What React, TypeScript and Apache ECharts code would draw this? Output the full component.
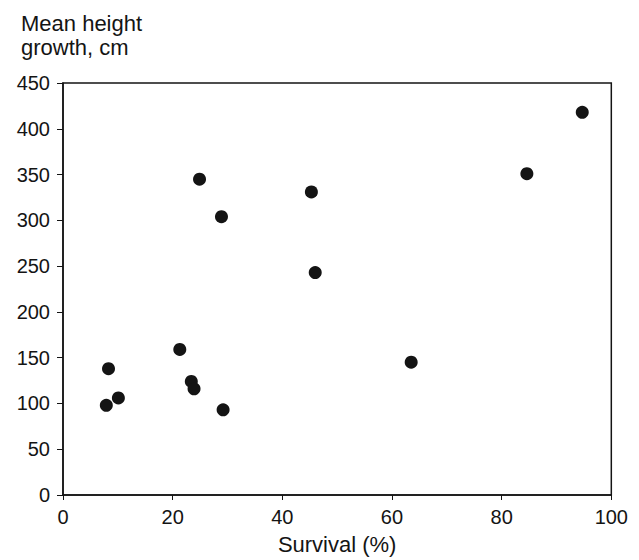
import React, { useEffect, useRef } from "react";
import * as echarts from "echarts";

const survival = [24.9, 28.9, 45.3, 94.7, 84.6, 46.0, 8.3, 7.9, 10.1, 21.3, 23.4, 23.9, 29.2, 63.5];
const heightGrowth = [345, 304, 331, 418, 351, 243, 138, 98, 106, 159, 124, 116, 93, 145];
const xTicks = [0, 20, 40, 60, 80, 100];
const yTicks = [0, 50, 100, 150, 200, 250, 300, 350, 400, 450];

const FONT = "'Liberation Sans', Arial, Helvetica, sans-serif";
const INK = "#141414";

export default function App() {
  const ref = useRef<HTMLDivElement>(null);
  useEffect(() => {
    if (!ref.current) return;
    const chart = echarts.init(ref.current, null, { renderer: "svg" });
    const pts = survival.map((x, i) => [x, heightGrowth[i]]);
    chart.setOption({
      animation: false,
      backgroundColor: "#ffffff",
      title: {
        text: "Mean height\ngrowth, cm",
        left: 8,
        top: -2,
        textStyle: {
          fontFamily: FONT,
          fontWeight: "normal",
          fontSize: 22,
          lineHeight: 24,
          color: INK,
        },
      },
      grid: {
        left: 55,
        right: 14,
        top: 75,
        bottom: 53.5,
        show: true,
        borderColor: INK,
        borderWidth: 1.5,
        backgroundColor: "transparent",
        containLabel: false,
      },
      xAxis: {
        type: "value",
        min: xTicks[0],
        max: xTicks[xTicks.length - 1],
        interval: 20,
        name: "Survival (%)",
        nameLocation: "middle",
        nameGap: 38,
        nameTextStyle: { fontFamily: FONT, fontSize: 22, color: INK },
        axisLine: { show: true, lineStyle: { color: INK, width: 1.5 } },
        axisTick: { show: true, length: 5, lineStyle: { color: INK, width: 1 } },
        axisLabel: { fontFamily: FONT, fontSize: 20, color: INK, margin: 12 },
        splitLine: { show: false },
      },
      yAxis: {
        type: "value",
        min: yTicks[0],
        max: yTicks[yTicks.length - 1],
        interval: 50,
        axisLine: { show: true, lineStyle: { color: INK, width: 1.5 } },
        axisTick: { show: true, length: 6, lineStyle: { color: INK, width: 1 } },
        axisLabel: { fontFamily: FONT, fontSize: 20, color: INK, margin: 13 },
        splitLine: { show: false },
      },
      series: [
        {
          type: "scatter",
          data: pts,
          symbol: "circle",
          symbolSize: 13,
          itemStyle: { color: INK, opacity: 1 },
        },
      ],
    });
    return () => chart.dispose();
  }, []);
  return <div ref={ref} style={{ width: 623, height: 552 }} />;
}
